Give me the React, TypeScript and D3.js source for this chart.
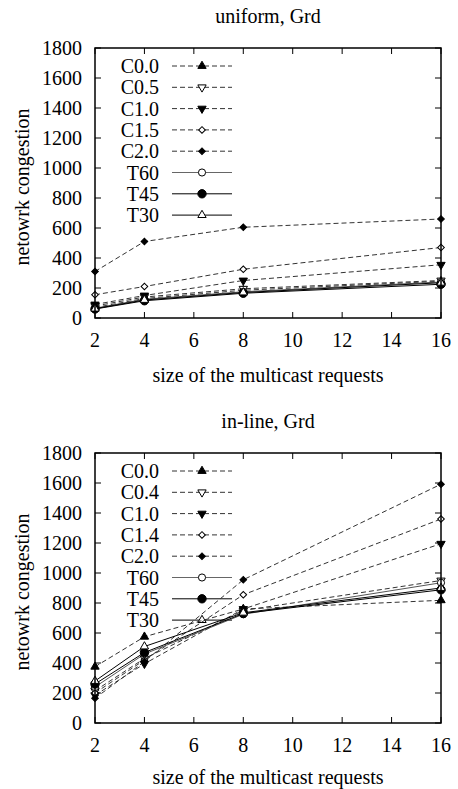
import React from "react";
import * as d3 from "d3";

const sizes = [2, 4, 8, 16];
const xTicks = [2, 4, 6, 8, 10, 12, 14, 16];
const yTicks = [0, 200, 400, 600, 800, 1000, 1200, 1400, 1600, 1800];

const uniformNames = ["C0.0", "C0.5", "C1.0", "C1.5", "C2.0", "T60", "T45", "T30"];
const uniformC00 = [70, 130, 185, 245];
const uniformC05 = [80, 140, 195, 250];
const uniformC10 = [90, 150, 250, 355];
const uniformC15 = [155, 210, 325, 470];
const uniformC20 = [310, 510, 605, 660];
const uniformT60 = [65, 125, 175, 240];
const uniformT45 = [60, 115, 165, 225];
const uniformT30 = [62, 120, 170, 235];

const inlineNames = ["C0.0", "C0.4", "C1.0", "C1.4", "C2.0", "T60", "T45", "T30"];
const inlineC00 = [375, 575, 760, 818];
const inlineC04 = [215, 430, 750, 950];
const inlineC10 = [185, 395, 760, 1195];
const inlineC14 = [200, 420, 855, 1360];
const inlineC20 = [165, 410, 955, 1592];
const inlineT60 = [240, 460, 725, 935];
const inlineT45 = [260, 470, 730, 888];
const inlineT30 = [280, 510, 735, 900];

// marker kind per series position
const markers = ["triUp", "triDownOpen", "triDown", "diamondOpen", "diamond", "circleOpen", "circle", "triUpOpen"];

const W = 458;
const H = 789;
const left = 95;
const right = 441;
const plotH = 270;
const font = "Liberation Serif, DejaVu Serif, Times, serif";
const fs = 20;

const Marker = ({ kind, x, y }: { kind: string; x: number; y: number }) => {
  const open = kind.endsWith("Open");
  const base = kind.replace("Open", "");
  let type = d3.symbolTriangle;
  let size = 30;
  let rot = 0;
  if (base === "triDown") rot = 180;
  if (base === "diamond") {
    type = d3.symbolSquare;
    size = 22;
    rot = 45;
  }
  if (base === "circle") {
    type = d3.symbolCircle;
    size = open ? 40 : 55;
  }
  const d = d3.symbol().type(type).size(size)();
  return (
    <path
      d={d || ""}
      transform={`translate(${x},${y}) rotate(${rot})`}
      fill={open ? "white" : "black"}
      stroke="black"
      strokeWidth={1}
    />
  );
};

const Panel = ({
  top,
  title,
  names,
  series,
  xTitleGap,
}: {
  top: number;
  title: string;
  names: string[];
  series: number[][];
  xTitleGap: number;
}) => {
  const x = d3.scaleLinear().domain([2, 16]).range([left, right]);
  const y = d3.scaleLinear().domain([0, 1800]).range([top + plotH, top]);
  const line = d3
    .line<number>()
    .x((_, i) => x(sizes[i]))
    .y((v) => y(v));
  const bottom = top + plotH;

  return (
    <g fontFamily={font} fontSize={fs} fill="black">
      <text x={(left + right) / 2} y={top - 25} textAnchor="middle">
        {title}
      </text>
      {yTicks.map((t) => (
        <g key={t}>
          <line x1={left} x2={left + 6} y1={y(t)} y2={y(t)} stroke="black" />
          <line x1={right} x2={right - 6} y1={y(t)} y2={y(t)} stroke="black" />
          <text x={82} y={y(t) + 7} textAnchor="end">
            {t}
          </text>
        </g>
      ))}
      {xTicks.map((t) => (
        <g key={t}>
          <line x1={x(t)} x2={x(t)} y1={bottom} y2={bottom - 6} stroke="black" />
          <line x1={x(t)} x2={x(t)} y1={top} y2={top + 6} stroke="black" />
          <text x={x(t)} y={bottom + 29} textAnchor="middle">
            {t}
          </text>
        </g>
      ))}
      <text x={(left + right) / 2} y={bottom + xTitleGap} textAnchor="middle">
        size of the multicast requests
      </text>
      <text
        transform={`translate(29,${top + plotH / 2 + 4}) rotate(-90)`}
        textAnchor="middle"
      >
        netowrk congestion
      </text>
      {/* legend */}
      {names.map((n, i) => {
        const ly = top + 18 + i * 21.3;
        const dashed = n.startsWith("C");
        return (
          <g key={n}>
            <text x={left + 64} y={ly + 7} textAnchor="end">
              {n}
            </text>
            <line
              x1={left + 77}
              x2={left + 137}
              y1={ly}
              y2={ly}
              stroke={dashed ? "#333" : n === "T60" ? "#666" : "black"}
              strokeWidth={1}
              strokeDasharray={dashed ? "5,3" : undefined}
            />
            <Marker kind={markers[i]} x={left + 107} y={ly} />
          </g>
        );
      })}
      {series.map((s, i) => (
        <path
          key={i}
          d={line(s) || ""}
          fill="none"
          stroke={names[i].startsWith("C") ? "#333" : names[i] === "T60" ? "#555" : "black"}
          strokeWidth={1}
          strokeDasharray={names[i].startsWith("C") ? "5,3" : undefined}
        />
      ))}
      {series.map((s, i) =>
        s.map((v, j) => <Marker key={`${i}-${j}`} kind={markers[i]} x={x(sizes[j])} y={y(v)} />)
      )}
      <rect
        x={left}
        y={top}
        width={right - left}
        height={plotH}
        fill="none"
        stroke="black"
        strokeWidth={1.5}
      />
    </g>
  );
};

export default function App() {
  return (
    <svg
      width={W}
      height={H}
      style={{ position: "absolute", left: 0, top: 0, background: "white" }}
    >
      <rect width={W} height={H} fill="white" />
      <Panel
        top={48}
        title="uniform, Grd"
        names={uniformNames}
        xTitleGap={64}
        series={[uniformC00, uniformC05, uniformC10, uniformC15, uniformC20, uniformT60, uniformT45, uniformT30]}
      />
      <Panel
        top={453}
        title="in-line, Grd"
        names={inlineNames}
        xTitleGap={61}
        series={[inlineC00, inlineC04, inlineC10, inlineC14, inlineC20, inlineT60, inlineT45, inlineT30]}
      />
    </svg>
  );
}
